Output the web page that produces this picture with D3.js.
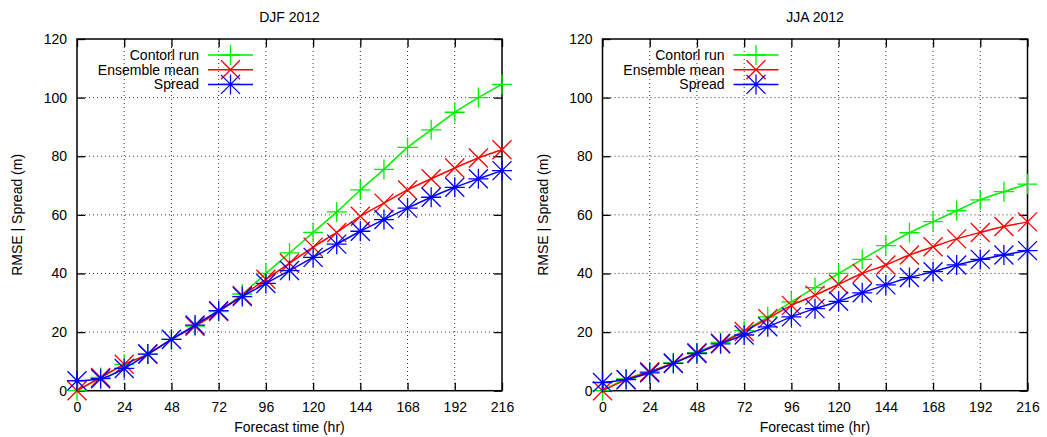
<!DOCTYPE html>
<html>
<head>
<meta charset="utf-8">
<script src="https://cdn.jsdelivr.net/npm/d3@7"></script>
<style>
  body { margin: 0; background: #fff; }
  svg text { font-family: "Liberation Sans", Arial, sans-serif; fill: #000; }
</style>
</head>
<body>
<svg id="chart" width="1047" height="437"></svg>
<script>
// forecast lead time (hr)
var hours = [0, 12, 24, 36, 48, 60, 72, 84, 96, 108, 120, 132, 144, 156, 168, 180, 192, 204, 216];
var xTicks = [0, 24, 48, 72, 96, 120, 144, 168, 192, 216];
var yTicks = [0, 20, 40, 60, 80, 100, 120];
var seriesNames = ["Contorl run", "Ensemble mean", "Spread"];

// DJF 2012
var djfControl = [0, 4.5, 9, 12.5, 17.5, 22, 27, 33, 40, 47, 54, 61, 68.5, 75.5, 83, 89, 95, 100, 104.5];
var djfMean    = [0, 4.5, 9, 12.5, 17.5, 22, 27, 32.5, 38, 43.5, 49, 54, 59.5, 64, 68.5, 72.3, 76, 79.4, 82.2];
var djfSpread  = [3.4, 4.1, 7.6, 12.5, 17.5, 22.4, 27.3, 32.1, 36.6, 41, 45.5, 50, 54.4, 58.4, 62.3, 66, 69.4, 72.3, 75.1];

// JJA 2012
var jjaControl = [0, 4, 6.5, 9.5, 13, 16.5, 20.5, 25.2, 30.3, 35.2, 40, 44.8, 49.5, 53.9, 57.7, 61.4, 65.1, 67.9, 70.5];
var jjaMean    = [0, 3.7, 6.5, 9.5, 13, 16.2, 20.2, 24.6, 29.1, 32.6, 36.3, 40, 42.9, 46.3, 49.1, 51.8, 54, 56, 57.6];
var jjaSpread  = [2.8, 3.8, 6.1, 9.3, 12.7, 16, 19, 21.8, 25.2, 28, 30.5, 33.4, 36.1, 38.6, 40.6, 42.9, 44.8, 46.3, 47.8];

var colors = ["#00ee00", "#ff0000", "#0000ff"];

var svg = d3.select("#chart");

function marker(kind, s) {
  var plus = "M" + (-s) + ",0H" + s + "M0," + (-s) + "V" + s;
  var d = s * 0.95;
  var cross = "M" + (-d) + "," + (-d) + "L" + d + "," + d + "M" + (-d) + "," + d + "L" + d + "," + (-d);
  if (kind == 0) return plus;
  if (kind == 1) return cross;
  return plus + cross;
}

function drawPanel(left, title, values) {
  var top = 39, bottom = 390.7, w = 425;
  var x = d3.scaleLinear().domain([0, 216]).range([left, left + w]);
  var y = d3.scaleLinear().domain([0, 120]).range([bottom, top]);

  var g = svg.append("g");

  // grid
  g.selectAll(".vgrid").data(xTicks.slice(1, -1)).enter().append("line")
    .attr("x1", function(d) { return x(d); }).attr("x2", function(d) { return x(d); })
    .attr("y1", top).attr("y2", bottom)
    .attr("stroke", "#333").attr("stroke-width", 1).attr("stroke-dasharray", "1,3");
  g.selectAll(".hgrid").data(yTicks.slice(1, -1)).enter().append("line")
    .attr("x1", left).attr("x2", left + w)
    .attr("y1", function(d) { return y(d); }).attr("y2", function(d) { return y(d); })
    .attr("stroke", "#333").attr("stroke-width", 1).attr("stroke-dasharray", "1,3");

  // axes with mirrored inward ticks
  g.append("g").attr("transform", "translate(0," + bottom + ")")
    .call(d3.axisBottom(x).tickValues(xTicks).tickSize(-8).tickPadding(9))
    .call(function(a) { a.select(".domain").remove(); a.selectAll("text").attr("font-size", 14).attr("dy", "0.9em"); });
  g.append("g").attr("transform", "translate(0," + top + ")")
    .call(d3.axisTop(x).tickValues(xTicks).tickSize(-8).tickFormat(""))
    .call(function(a) { a.select(".domain").remove(); });
  g.append("g").attr("transform", "translate(" + left + ",0)")
    .call(d3.axisLeft(y).tickValues(yTicks).tickSize(-8).tickPadding(10))
    .call(function(a) { a.select(".domain").remove(); a.selectAll("text").attr("font-size", 14); });
  g.append("g").attr("transform", "translate(" + (left + w) + ",0)")
    .call(d3.axisRight(y).tickValues(yTicks).tickSize(-8).tickFormat(""))
    .call(function(a) { a.select(".domain").remove(); });
  g.selectAll(".tick line").attr("stroke", "#000").attr("stroke-width", 1.3);

  g.append("rect").attr("x", left).attr("y", top).attr("width", w).attr("height", bottom - top)
    .attr("fill", "none").attr("stroke", "#000").attr("stroke-width", 1.5);

  // titles
  g.append("text").attr("x", left + w / 2).attr("y", 22).attr("text-anchor", "middle")
    .attr("font-size", 14).text(title);
  g.append("text").attr("x", left + w / 2).attr("y", 432).attr("text-anchor", "middle")
    .attr("font-size", 14).text("Forecast time (hr)");
  g.append("text").attr("transform", "translate(" + (left - 55) + "," + ((top + bottom) / 2) + ") rotate(-90)")
    .attr("text-anchor", "middle").attr("font-size", 14).text("RMSE | Spread (m)");

  var line = d3.line()
    .x(function(d, i) { return x(hours[i]); })
    .y(function(d) { return y(d); })
    .curve(d3.curveMonotoneX);

  values.forEach(function(vals, k) {
    g.append("path").attr("d", line(vals)).attr("fill", "none")
      .attr("stroke", colors[k]).attr("stroke-width", 1.5);
    g.selectAll(".pt" + k).data(vals).enter().append("path")
      .attr("transform", function(d, i) { return "translate(" + x(hours[i]) + "," + y(d) + ")"; })
      .attr("d", marker(k, 10)).attr("fill", "none")
      .attr("stroke", colors[k]).attr("stroke-width", 1.3);

    // legend
    var ly = 55 + k * 14.7;
    g.append("text").attr("x", left + 122).attr("y", ly).attr("dy", "0.35em")
      .attr("text-anchor", "end").attr("font-size", 14).text(seriesNames[k]);
    g.append("line").attr("x1", left + 131).attr("x2", left + 176).attr("y1", ly).attr("y2", ly)
      .attr("stroke", colors[k]).attr("stroke-width", 1.5);
    g.append("path").attr("transform", "translate(" + (left + 153.5) + "," + ly + ")")
      .attr("d", marker(k, 10)).attr("fill", "none")
      .attr("stroke", colors[k]).attr("stroke-width", 1.3);
  });
}

drawPanel(77, "DJF 2012", [djfControl, djfMean, djfSpread]);
drawPanel(602.5, "JJA 2012", [jjaControl, jjaMean, jjaSpread]);
</script>
</body>
</html>
